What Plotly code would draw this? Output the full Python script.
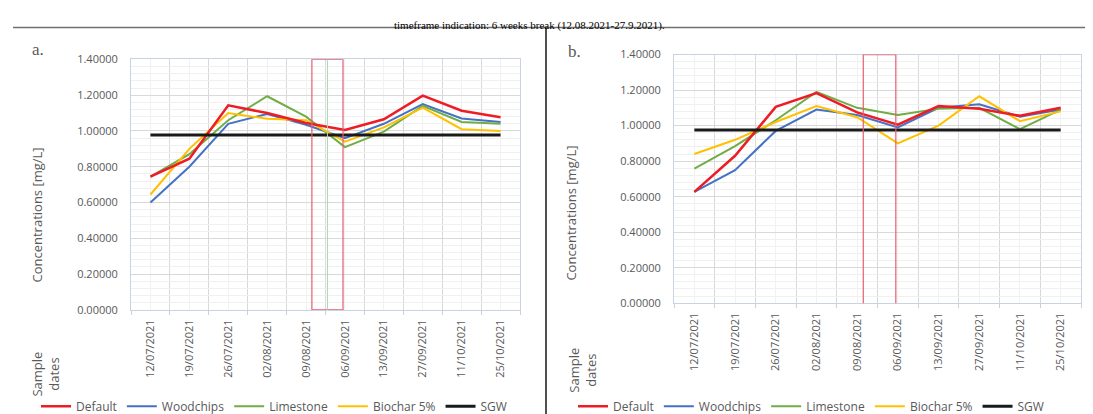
import plotly.graph_objects as go

# sample dates shared by both panels
dates = ["12/07/2021", "19/07/2021", "26/07/2021", "02/08/2021", "09/08/2021",
         "06/09/2021", "13/09/2021", "27/09/2021", "11/10/2021", "25/10/2021"]

# panel a. concentrations [mg/L]
a_default = [0.745, 0.845, 1.143, 1.100, 1.045, 1.005, 1.065, 1.197, 1.113, 1.077]
a_woodchips = [0.600, 0.800, 1.040, 1.095, 1.035, 0.960, 1.040, 1.150, 1.070, 1.050]
a_limestone = [0.745, 0.870, 1.060, 1.194, 1.080, 0.910, 0.996, 1.140, 1.050, 1.040]
a_biochar = [0.645, 0.900, 1.100, 1.068, 1.060, 0.940, 1.020, 1.130, 1.010, 1.000]
a_sgw = [0.978] * 10

# panel b.
b_default = [0.627, 0.830, 1.105, 1.183, 1.074, 1.005, 1.110, 1.095, 1.055, 1.100]
b_woodchips = [0.627, 0.749, 0.970, 1.090, 1.060, 0.990, 1.100, 1.120, 1.050, 1.090]
b_limestone = [0.758, 0.885, 1.030, 1.190, 1.100, 1.060, 1.095, 1.100, 0.980, 1.090]
b_biochar = [0.840, 0.920, 1.020, 1.110, 1.047, 0.900, 1.000, 1.165, 1.025, 1.080]
b_sgw = [0.975] * 10

names = ["Default", "Woodchips", "Limestone", "Biochar 5%", "SGW"]
colors = ["#EE1C25", "#4472C4", "#70AD47", "#FFC000", "#1a1a1a"]
widths = [2.5, 2, 2, 2, 3]
draw_order = [1, 2, 3, 0, 4]

FONT = "Open Sans, Lato, sans-serif"
GREY = "#595959"

fig = go.Figure()
xs = list(range(len(dates)))

panels = [
    ("x", "y", "legend", [a_default, a_woodchips, a_limestone, a_biochar, a_sgw]),
    ("x2", "y2", "legend2", [b_default, b_woodchips, b_limestone, b_biochar, b_sgw]),
]
for xa, ya, leg, series in panels:
    for i in draw_order:
        fig.add_trace(go.Scatter(
            x=xs, y=series[i], mode="lines", name=names[i],
            line=dict(color=colors[i], width=widths[i]),
            xaxis=xa, yaxis=ya, legend=leg, legendrank=i + 1,
            hoverinfo="skip",
        ))

xaxis_style = dict(
    range=[-0.5, 9.5], tickmode="array", tickvals=xs, ticktext=dates,
    tickangle=-90, tickfont=dict(family=FONT, size=11, color=GREY),
    showgrid=True, gridcolor="#f1f1f1", gridwidth=1,
    minor=dict(tickmode="array", tickvals=[k - 0.5 for k in range(11)],
               showgrid=True, gridcolor="#d9d9d9", ticks="outside",
               ticklen=4, tickcolor="#d0d0d0"),
    showline=True, linecolor="#c9d3df", mirror=True, zeroline=False,
    ticklabelstandoff=4,
)
yaxis_style = dict(
    range=[0, 1.4], dtick=0.2, tickformat=".5f",
    tickfont=dict(family=FONT, size=11, color=GREY),
    showgrid=True, gridcolor="#d9d9d9",
    minor=dict(dtick=0.04, showgrid=True, gridcolor="#f0f0f0"),
    showline=True, linecolor="#c9d3df", mirror=True, zeroline=False,
    ticklabelstandoff=10,
)

W, H = 1093, 414
fig.update_layout(
    width=W, height=H, margin=dict(l=0, r=0, t=0, b=0),
    paper_bgcolor="white", plot_bgcolor="white",
    xaxis=dict(domain=[123 / W, 512 / W], anchor="y", **xaxis_style),
    yaxis=dict(domain=[1 - 305 / H, 1 - 45 / H], anchor="x", **yaxis_style),
    xaxis2=dict(domain=[666 / W, 1073 / W], anchor="y2", **xaxis_style),
    yaxis2=dict(domain=[1 - 298 / H, 1 - 40 / H], anchor="x2", **yaxis_style),
    legend=dict(orientation="h", x=28 / W, y=1 - 405 / H, xanchor="left",
                yanchor="middle", itemwidth=30, font=dict(family=FONT, size=12, color=GREY),
                bgcolor="rgba(0,0,0,0)", itemclick=False),
    legend2=dict(orientation="h", x=565 / W, y=1 - 405 / H, xanchor="left",
                 yanchor="middle", itemwidth=30, font=dict(family=FONT, size=12, color=GREY),
                 bgcolor="rgba(0,0,0,0)", itemclick=False),
    showlegend=True,
)

# red boxes marking the break, plus the faint marker line in panel a
for xr, yr, y0 in [("x", "y", 0), ("x2", "y2", -0.01)]:
    fig.add_shape(type="rect", xref=xr, yref=yr, x0=4.15, x1=4.95, y0=y0, y1=1.4,
                  line=dict(color="#e06070", width=1.2))
fig.add_shape(type="line", xref="x", yref="y", x0=4.55, x1=4.55, y0=0, y1=1.4,
              line=dict(color="#a8d8b0", width=1))

# frame lines of the figure
fig.add_shape(type="line", xref="paper", yref="paper", x0=5 / W, x1=1, y0=1 - 12 / H, y1=1 - 12 / H,
              line=dict(color="#707070", width=1.5))
fig.add_shape(type="line", xref="paper", yref="paper", x0=538 / W, x1=538 / W, y0=0, y1=1 - 12 / H,
              line=dict(color="#505050", width=2))

ann = [
    dict(text="timeframe indication: 6 weeks break (12.08.2021-27.9.2021).", x=521 / W, y=1 - 1 / H,
         yanchor="top", font=dict(family="Liberation Serif", size=11, color="black")),
    dict(text="a.", x=30 / W, y=1 - 35 / H, font=dict(family="Liberation Serif", size=17, color=GREY)),
    dict(text="b.", x=566 / W, y=1 - 37 / H, font=dict(family="Liberation Serif", size=17, color=GREY)),
    dict(text="Concentrations [mg/L]", x=28 / W, y=1 - 207 / H, textangle=-90,
         font=dict(family=FONT, size=13, color=GREY)),
    dict(text="Concentrations [mg/L]", x=563 / W, y=1 - 205 / H, textangle=-90,
         font=dict(family=FONT, size=13, color=GREY)),
    dict(text="Sample<br>dates", x=38 / W, y=1 - 372 / H, textangle=-90,
         font=dict(family=FONT, size=13, color=GREY)),
    dict(text="Sample<br>dates", x=575 / W, y=1 - 368 / H, textangle=-90,
         font=dict(family=FONT, size=13, color=GREY)),
]
for a in ann:
    a.setdefault("yanchor", "middle")
    fig.add_annotation(xref="paper", yref="paper", showarrow=False,
                       xanchor="center", **a)

fig.write_html("out.html")
